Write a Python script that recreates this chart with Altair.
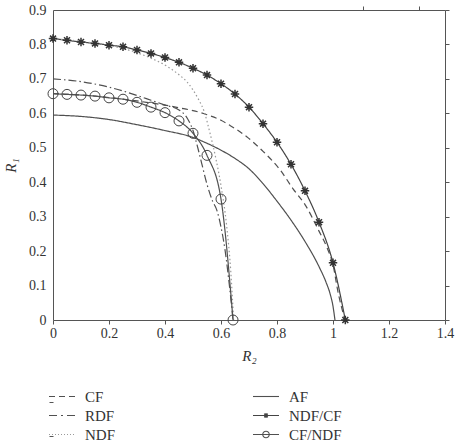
import altair as alt
import pandas as pd

# ---------------- data ----------------
series_order = ["CF", "AF", "RDF", "NDF/CF", "NDF", "CF/NDF"]

cf_r2 = [0, 0.1, 0.2, 0.25, 0.3, 0.35, 0.4, 0.45, 0.5, 0.55, 0.6, 0.632, 0.692, 0.751, 0.811, 0.858, 0.9, 0.95, 0.977, 1.0, 1.019, 1.043]
cf_r1 = [0.657, 0.653, 0.646, 0.641, 0.636, 0.630, 0.624, 0.616, 0.608, 0.596, 0.580, 0.565, 0.532, 0.489, 0.436, 0.380, 0.335, 0.258, 0.213, 0.160, 0.077, 0.0]

af_r2 = [0, 0.1, 0.2, 0.3, 0.4, 0.5, 0.55, 0.6, 0.65, 0.7, 0.75, 0.8, 0.85, 0.9, 0.95, 0.975, 0.99, 1.0, 1.007]
af_r1 = [0.595, 0.591, 0.582, 0.567, 0.550, 0.530, 0.513, 0.493, 0.469, 0.439, 0.396, 0.345, 0.290, 0.228, 0.155, 0.110, 0.075, 0.040, 0.0]

rdf_r2 = [0, 0.1, 0.2, 0.3, 0.35, 0.4, 0.45, 0.48, 0.5, 0.513, 0.531, 0.549, 0.57, 0.585, 0.6, 0.615, 0.63, 0.643]
rdf_r1 = [0.700, 0.692, 0.676, 0.652, 0.638, 0.624, 0.610, 0.585, 0.550, 0.513, 0.455, 0.397, 0.345, 0.319, 0.270, 0.200, 0.100, 0.0]

ndf_r2 = [0, 0.1, 0.2, 0.25, 0.3, 0.35, 0.4, 0.45, 0.48, 0.5, 0.52, 0.54, 0.56, 0.58, 0.6, 0.62, 0.635, 0.645]
ndf_r1 = [0.817, 0.809, 0.797, 0.788, 0.776, 0.760, 0.740, 0.712, 0.690, 0.668, 0.640, 0.605, 0.545, 0.475, 0.390, 0.275, 0.140, 0.0]

ndfcf_r2 = [0, 0.05, 0.1, 0.15, 0.2, 0.25, 0.3, 0.35, 0.4, 0.45, 0.5, 0.55, 0.6, 0.65, 0.7, 0.75, 0.8, 0.85, 0.9, 0.95, 1.0, 1.044]
ndfcf_r1 = [0.817, 0.812, 0.807, 0.803, 0.798, 0.793, 0.784, 0.774, 0.762, 0.748, 0.731, 0.711, 0.686, 0.656, 0.618, 0.570, 0.516, 0.452, 0.375, 0.284, 0.166, 0.0]

cfndf_r2 = [0, 0.05, 0.1, 0.15, 0.2, 0.25, 0.3, 0.35, 0.4, 0.45, 0.5, 0.55, 0.6, 0.643]
cfndf_r1 = [0.657, 0.655, 0.653, 0.650, 0.645, 0.641, 0.632, 0.618, 0.602, 0.578, 0.542, 0.478, 0.351, 0.0]

x_ticks = [0, 0.2, 0.4, 0.6, 0.8, 1.0, 1.2, 1.4]
y_ticks = [0, 0.1, 0.2, 0.3, 0.4, 0.5, 0.6, 0.7, 0.8, 0.9]

marker_series = ["NDF/CF", "CF/NDF"]

# legend entries (two columns, three rows)
legend_labels = ["CF", "RDF", "NDF", "AF", "NDF/CF", "CF/NDF"]
legend_col = [0, 0, 0, 1, 1, 1]
legend_row = [0, 1, 2, 0, 1, 2]

# ---------------- tables ----------------
def block(name, xs, ys):
    return pd.DataFrame({"series": name, "r2": xs, "r1": ys})

df = pd.concat([
    block("CF", cf_r2, cf_r1),
    block("AF", af_r2, af_r1),
    block("RDF", rdf_r2, rdf_r1),
    block("NDF/CF", ndfcf_r2, ndfcf_r1),
    block("NDF", ndf_r2, ndf_r1),
    block("CF/NDF", cfndf_r2, cfndf_r1),
], ignore_index=True)
df_markers = df[df["series"].isin(marker_series)]
df_legend = pd.DataFrame({"series": legend_labels, "col": legend_col, "row": legend_row})

# ---------------- styles ----------------
FONT = "Liberation Serif"
AX = "#555555"
TXT = "#333333"
W, H = 392, 310

dash_style = {"CF": [6, 4], "AF": [1, 0], "RDF": [8, 3, 1.5, 3], "NDF/CF": [1, 0], "NDF": [1.5, 2.5], "CF/NDF": [1, 0]}
color_style = {"CF": "#505050", "AF": "#505050", "RDF": "#505050", "NDF/CF": "#444444", "NDF": "#9a9a9a", "CF/NDF": "#505050"}

asterisk = "M-1,0H1M0,-1V1M-0.7,-0.7L0.7,0.7M-0.7,0.7L0.7,-0.7"

# legend symbol paths: unit square [-1, 1] = 26 px
dots = "".join(f"M{(-13 + p) / 13:.3f},0H{(-12 + p) / 13:.3f}" for p in range(0, 26, 3))
leg_style = {
    "CF": "M-1,0H-0.538M-0.231,0H0.231M0.538,0H1",
    "AF": "M-1,0H1",
    "RDF": "M-1,0H-0.385M-0.077,0H0.077M0.385,0H1",
    "NDF/CF": "M-1,0H1M-0.2,0H0.2M0,-0.2V0.2M-0.14,-0.14L0.14,0.14M-0.14,0.14L0.14,-0.14M-0.1,-0.1H0.1V0.1H-0.1Z",
    "NDF": dots,
    "CF/NDF": "M-1,0H1M0.25,0A0.25,0.25 0 1 1 -0.25,0A0.25,0.25 0 1 1 0.25,0",
}

def xscale():
    return alt.Scale(domain=[0, 1.4], nice=False, zero=False)

def yscale():
    return alt.Scale(domain=[0, 0.9], nice=False, zero=False)

def tick_axis(orient, position):
    return alt.Axis(orient=orient, position=position, values=x_ticks if orient in ("top", "bottom") else y_ticks,
                    labels=False, ticks=True, tickSize=4, tickColor=AX, tickWidth=1,
                    domain=False, grid=False, title=None)

main_x = alt.Axis(orient="bottom", values=x_ticks, format="~g", ticks=False, domain=False, grid=False,
                  labelFont=FONT, labelFontSize=14, labelColor=TXT, labelPadding=6,
                  labelFlush=False, labelOverlap=False,
                  title="R₂", titleFont=FONT, titleFontSize=15, titleFontStyle="italic",
                  titleFontWeight="normal", titleColor=TXT, titlePadding=8)
main_y = alt.Axis(orient="left", values=y_ticks, format="~g", ticks=False, domain=False, grid=False,
                  labelFont=FONT, labelFontSize=14, labelColor=TXT, labelPadding=7,
                  labelFlush=False, labelOverlap=False,
                  title="R₁", titleFont=FONT, titleFontSize=15, titleFontStyle="italic",
                  titleFontWeight="normal", titleColor=TXT, titlePadding=10)

lines = alt.Chart(df).mark_line(strokeWidth=1.2, interpolate="monotone").encode(
    x=alt.X("r2:Q", scale=xscale(), axis=main_x),
    y=alt.Y("r1:Q", scale=yscale(), axis=main_y),
    color=alt.Color("series:N", scale=alt.Scale(domain=series_order, range=[color_style[s] for s in series_order]), legend=None),
    strokeDash=alt.StrokeDash("series:N", scale=alt.Scale(domain=series_order, range=[dash_style[s] for s in series_order]), legend=None),
)

points = alt.Chart(df_markers).mark_point(filled=False, opacity=1).encode(
    x=alt.X("r2:Q", scale=xscale(), axis=tick_axis("top", H)),
    y=alt.Y("r1:Q", scale=yscale(), axis=tick_axis("right", 0)),
    shape=alt.Shape("series:N", scale=alt.Scale(domain=marker_series, range=[asterisk, "circle"]), legend=None),
    size=alt.Size("series:N", scale=alt.Scale(domain=marker_series, range=[72, 100]), legend=None),
    strokeWidth=alt.StrokeWidth("series:N", scale=alt.Scale(domain=marker_series, range=[1.5, 1.0]), legend=None),
    stroke=alt.Stroke("series:N", scale=alt.Scale(domain=marker_series, range=["#333333", "#444444"]), legend=None),
)

frame = alt.Chart(df).transform_filter("false").mark_point(opacity=0).encode(
    x=alt.X("r2:Q", scale=xscale(), axis=tick_axis("bottom", 0)),
    y=alt.Y("r1:Q", scale=yscale(), axis=tick_axis("left", W)),
)

# legend: entry grid placed below the plot (symbol centres at 62 / 266 px, rows 19 px apart)
leg_x = alt.Scale(domain=[0, 1], range=[9, 213])
leg_y = alt.Scale(domain=[0, 2], range=[386.5, 424.5])

legend_sym = alt.Chart(df_legend).mark_point(filled=False, size=676, strokeWidth=1.1, opacity=1).encode(
    x=alt.X("col:Q", scale=leg_x, axis=None),
    y=alt.Y("row:Q", scale=leg_y, axis=None),
    shape=alt.Shape("series:N", scale=alt.Scale(domain=legend_labels, range=[leg_style[s] for s in legend_labels]), legend=None),
    stroke=alt.Stroke("series:N", scale=alt.Scale(domain=legend_labels, range=[color_style[s] for s in legend_labels]), legend=None),
)

legend_txt = alt.Chart(df_legend).mark_text(align="left", baseline="middle", dx=23, font=FONT, fontSize=15, color=TXT).encode(
    x=alt.X("col:Q", scale=leg_x, axis=None),
    y=alt.Y("row:Q", scale=leg_y, axis=None),
    text="series:N",
)

chart = alt.layer(lines, points, frame, legend_sym, legend_txt).resolve_axis(
    x="independent", y="independent"
).resolve_scale(
    x="independent", y="independent",
    shape="independent", size="independent", stroke="independent", strokeWidth="independent"
).properties(
    width=W, height=H,
    autosize=alt.AutoSizeParams(type="none"),
    padding={"left": 53, "top": 10, "right": 20, "bottom": 124},
    background="white",
).configure_view(stroke=AX, strokeWidth=1)

chart.save("out.html", embed_options={"renderer": "svg", "actions": False})
